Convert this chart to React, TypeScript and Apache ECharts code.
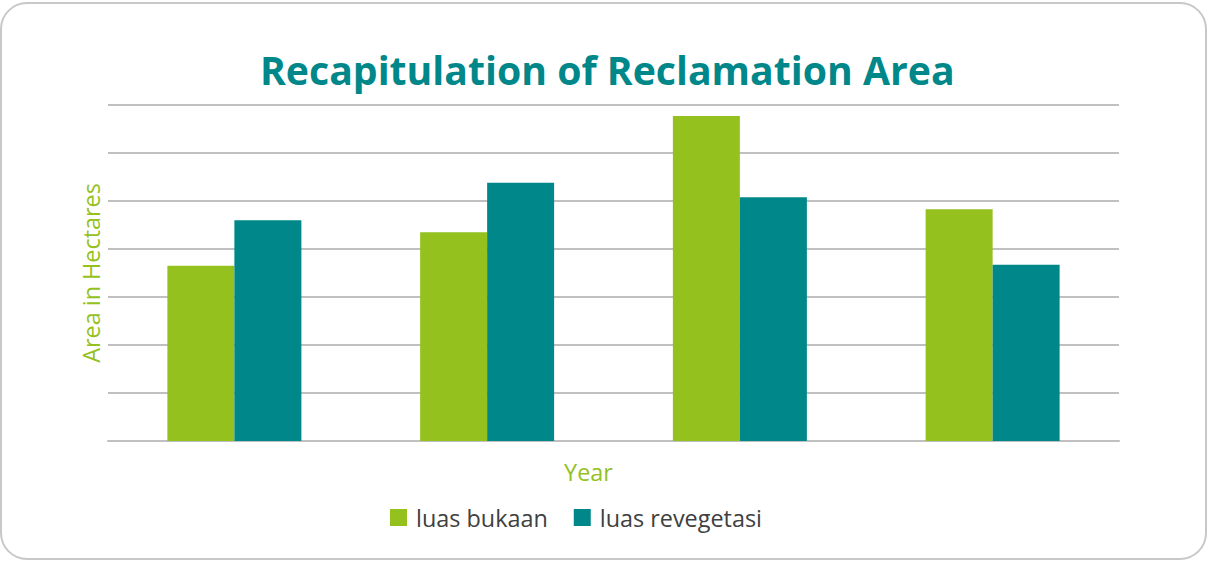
import React, { useEffect, useRef } from "react";
import * as echarts from "echarts";

const categories = ["2018", "2019", "2020", "2021"];
const luasBukaan = [3.65, 4.35, 6.77, 4.83];
const luasRevegetasi = [4.6, 5.38, 5.08, 3.67];

export default function App() {
  const ref = useRef<HTMLDivElement>(null);
  useEffect(() => {
    const chart = echarts.init(ref.current!, null, { renderer: "svg" });
    chart.setOption({
      animation: false,
      backgroundColor: "#ffffff",
      title: {
        text: "Recapitulation of Reclamation Area",
        left: 255,
        top: 45,
        textStyle: {
          fontFamily: "Open Sans",
          fontWeight: "bold",
          fontSize: 39.2,
          color: "#00878A",
        },
      },
      graphic: [
        {
          type: "rect",
          shape: { x: 1, y: 3, width: 1205, height: 556, r: 26 },
          style: { fill: "none", stroke: "#c8c8c8", lineWidth: 2 },
          z: 100,
          silent: true,
        },
      ],
      legend: {
        left: 385,
        top: 501,
        itemWidth: 17,
        itemHeight: 17,
        itemGap: 26,
        icon: "rect",
        textStyle: {
          fontFamily: "Open Sans",
          fontSize: 23.4,
          color: "#404040",
          padding: [0, 0, 0, 4],
        },
        data: ["luas bukaan", "luas revegetasi"],
      },
      grid: { left: 108, right: 90, top: 105, bottom: 120 },
      xAxis: {
        type: "category",
        data: categories,
        name: "Year",
        nameLocation: "middle",
        nameGap: 19,
        nameTextStyle: {
          fontFamily: "Open Sans",
          fontSize: 23.4,
          color: "#95C11F",
          padding: [0, 50, 0, 0],
        },
        axisLine: { show: true, lineStyle: { color: "#c0c0c0", width: 2 } },
        axisTick: { show: false },
        axisLabel: { show: false },
      },
      yAxis: {
        type: "value",
        min: 0,
        max: 7,
        interval: 1,
        name: "Area in Hectares",
        nameLocation: "middle",
        nameGap: 6,
        nameTextStyle: { fontFamily: "Open Sans", fontSize: 23.4, color: "#95C11F" },
        axisLabel: { show: false },
        axisLine: { show: false },
        axisTick: { show: false },
        splitLine: { lineStyle: { color: "#c0c0c0", width: 2 } },
      },
      series: [
        {
          name: "luas bukaan",
          type: "bar",
          data: luasBukaan,
          barWidth: 67,
          barGap: "0%",
          itemStyle: { color: "#95C11F" },
        },
        {
          name: "luas revegetasi",
          type: "bar",
          data: luasRevegetasi,
          barWidth: 67,
          barGap: "0%",
          itemStyle: { color: "#00878A" },
        },
      ],
    });
    return () => chart.dispose();
  }, []);
  return (
    <div
      ref={ref}
      style={{ position: "fixed", left: 0, top: 0, width: 1209, height: 561 }}
    />
  );
}
